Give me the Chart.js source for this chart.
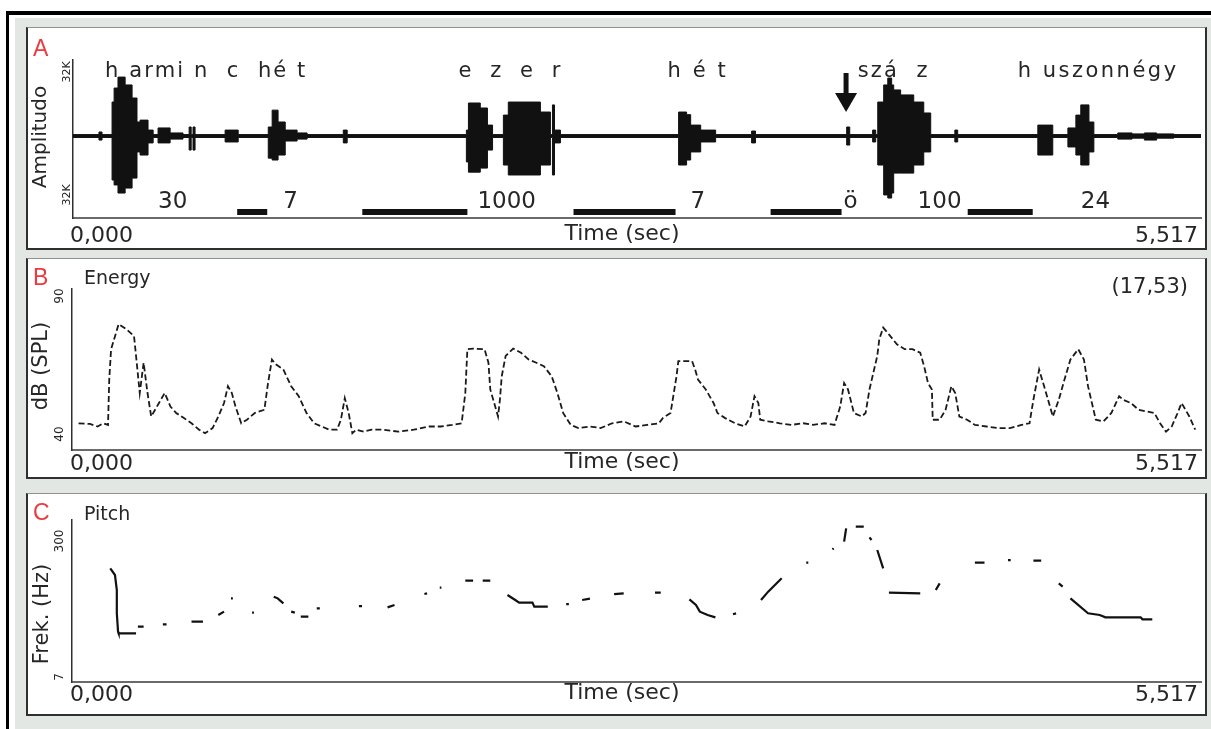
<!DOCTYPE html>
<html>
<head>
<meta charset="utf-8">
<script src="https://cdn.jsdelivr.net/npm/chart.js@4.4.1/dist/chart.umd.min.js"></script>
<style>
  html, body { margin: 0; padding: 0; background: #fff; }
  #page { position: relative; width: 1211px; height: 729px; overflow: hidden; background: #fff; }
  .bg { position: absolute; left: 15px; top: 18px; width: 1196px; height: 711px; background: #e2e7e4; }
  .frame-top { position: absolute; left: 6px; top: 11px; width: 1205px; height: 4px; background: #000; }
  .frame-left { position: absolute; left: 6px; top: 11px; width: 3px; height: 718px; background: #000; }
  .panel { position: absolute; left: 26px; width: 1177px; background: #fff;
           border: 2px solid #2f2f2f; border-top: 1px solid #8d918f; }
  .panel canvas { display: block; }
</style>
</head>
<body>
<div id="page">
  <div class="bg"></div>
  <div class="frame-top"></div>
  <div class="frame-left"></div>
  <div class="panel" style="top:27px;height:220px"><canvas id="chartA" width="1177" height="220"></canvas></div>
  <div class="panel" style="top:258px;height:218px"><canvas id="chartB" width="1177" height="218"></canvas></div>
  <div class="panel" style="top:493px;height:220px"><canvas id="chartC" width="1177" height="220"></canvas></div>
</div>
<script>
// ---- shared time axis ----
const timeMax = 5.517;
const timeTickLabels = ['0,000', '5,517'];
const timeTitle = 'Time (sec)';

// ---- A: waveform envelope (K units), value i holds from waveTime[i] to waveTime[i+1] ----
const waveTime = [0, 0.127, 0.142, 0.191, 0.201, 0.220, 0.255, 0.289, 0.313, 0.328, 0.367, 0.392,
  0.416, 0.475, 0.538, 0.568, 0.578, 0.587, 0.597, 0.744, 0.808, 0.955, 0.974, 1.003, 1.038,
  1.096, 1.145, 1.322, 1.341, 1.924, 1.934, 1.992, 2.027, 2.052, 2.105, 2.129, 2.286, 2.335,
  2.345, 2.355, 2.384, 2.962, 3.001, 3.021, 3.070, 3.143, 3.319, 3.338, 3.784, 3.799, 3.911,
  3.926, 3.936, 3.965, 3.985, 4.004, 4.014, 4.048, 4.112, 4.161, 4.195, 4.313, 4.327, 4.719,
  4.792, 4.866, 4.905, 4.929, 4.969, 4.993, 5.110, 5.180, 5.240, 5.300, 5.384, 5.517];
const waveTop = [0.6, 1.7, 0.6, 14.3, 20.2, 24.8, 21.5, 16.0, 5.9, 6.7, 2.5, 0.6,
  3.4, 1.3, 0.6, 3.8, 0.6, 3.8, 0.6, 2.5, 0.6, 3.8, 10.9, 5.9, 2.5,
  1.3, 0.6, 2.5, 0.6, 2.5, 13.9, 11.8, 4.6, 0.6, 8.8, 14.3, 10.1, 0.6,
  13.1, 2.5, 0.6, 10.1, 9.0, 4.6, 2.5, 0.6, 2.1, 0.6, 3.8, 0.6, 2.5,
  0.6, 14.3, 21.5, 24.4, 21.5, 19.4, 17.3, 14.3, 9.7, 0.6, 2.5, 0.6, 4.6,
  0.6, 3.4, 8.8, 13.1, 5.9, 0.6, 1.3, 0.9, 1.3, 0.9, 0.6, 0.6];
const waveBottom = [-0.6, -1.7, -0.6, -18.5, -20.6, -24.0, -21.9, -17.7, -6.7, -8.0, -2.9, -0.6,
  -2.9, -1.3, -0.6, -5.9, -0.6, -5.9, -0.6, -2.5, -0.6, -9.3, -10.1, -8.0, -2.1,
  -1.3, -0.6, -2.9, -0.6, -10.9, -15.2, -13.5, -5.9, -0.6, -12.2, -16.4, -12.2, -0.6,
  -16.4, -2.9, -0.6, -12.2, -10.1, -6.7, -2.5, -0.6, -2.9, -0.6, -3.8, -0.6, -2.5,
  -0.6, -12.2, -24.8, -26.1, -24.0, -15.6, -15.6, -12.2, -6.7, -0.6, -2.5, -0.6, -8.0,
  -0.6, -4.6, -8.0, -12.2, -6.7, -0.6, -1.3, -0.9, -1.7, -0.9, -0.6, -0.6];
const pauseStart = [0.803, 1.415, 2.448, 3.412, 4.376];
const pauseEnd = [0.950, 1.929, 2.947, 3.759, 4.694];
const wordLabels = ['h armi n  c  hé t', 'e z e r', 'h é t', 'szá  z', 'h uszonnégy'];
const wordStart = [0.157, 1.885, 2.908, 3.838, 4.621];
const wordEnd = [1.136, 2.384, 3.192, 4.180, 5.395];
const numberLabels = ['30', '7', '1000', '7', 'ö', '100', '24'];
const numberTimes = [0.416, 1.028, 1.978, 3.020, 3.769, 4.131, 4.929];
const arrowTime = 3.781;
const ampTickLabels = ['32K', '32K'];

// ---- B: energy (dB SPL) ----
const energyTime = [0.032, 0.088, 0.125, 0.153, 0.176, 0.182, 0.191, 0.228, 0.266, 0.303, 0.313,
  0.331, 0.350, 0.369, 0.387, 0.406, 0.425, 0.453, 0.481, 0.509, 0.547, 0.584, 0.621, 0.650,
  0.687, 0.715, 0.743, 0.762, 0.781, 0.799, 0.827, 0.855, 0.893, 0.940, 0.958, 0.977, 0.996,
  1.033, 1.071, 1.108, 1.146, 1.183, 1.220, 1.258, 1.295, 1.314, 1.333, 1.352, 1.370, 1.389,
  1.426, 1.464, 1.520, 1.595, 1.670, 1.745, 1.801, 1.857, 1.904, 1.922, 1.932, 1.960, 2.016,
  2.035, 2.044, 2.063, 2.082, 2.091, 2.100, 2.119, 2.156, 2.194, 2.231, 2.269, 2.306, 2.344,
  2.372, 2.400, 2.437, 2.475, 2.531, 2.583, 2.639, 2.696, 2.754, 2.811, 2.868, 2.887, 2.925,
  2.954, 2.963, 3.030, 3.045, 3.059, 3.097, 3.135, 3.154, 3.192, 3.240, 3.287, 3.316, 3.335,
  3.354, 3.363, 3.402, 3.459, 3.516, 3.573, 3.621, 3.678, 3.726, 3.754, 3.773, 3.792, 3.821,
  3.859, 3.878, 3.897, 3.916, 3.935, 3.945, 3.964, 3.992, 4.031, 4.069, 4.107, 4.145, 4.164,
  4.183, 4.202, 4.206, 4.240, 4.269, 4.297, 4.316, 4.336, 4.374, 4.412, 4.469, 4.526, 4.583,
  4.640, 4.679, 4.698, 4.726, 4.755, 4.793, 4.822, 4.850, 4.879, 4.917, 4.945, 4.965, 4.984,
  5.003, 5.041, 5.079, 5.117, 5.136, 5.174, 5.212, 5.250, 5.289, 5.317, 5.346, 5.374, 5.403,
  5.422, 5.441, 5.460, 5.489];
const energyDb = [48.3, 48.1, 47.3, 48.3, 47.8, 61.9, 71.3, 79.1, 77.5, 75.4, 69.2,
  57.7, 67.1, 57.7, 50.4, 52.5, 54.6, 57.7, 53.5, 51.5, 49.9, 48.3, 46.3, 45.2,
  46.8, 50.4, 54.6, 59.8, 57.7, 53.5, 48.3, 49.4, 51.5, 52.5, 60.8, 68.1, 66.6,
  65.0, 59.8, 56.7, 51.5, 48.3, 47.3, 46.3, 46.3, 49.4, 56.1, 51.5, 45.2, 46.3,
  45.7, 46.3, 46.3, 45.7, 46.3, 47.3, 47.3, 47.8, 48.3, 57.7, 71.3, 71.5, 71.3,
  67.1, 58.8, 54.6, 50.4, 55.6, 62.9, 69.2, 71.5, 70.2, 68.1, 67.1, 66.0, 62.9,
  57.7, 51.5, 47.8, 46.8, 47.3, 46.8, 48.3, 48.9, 47.3, 47.8, 48.3, 49.9, 51.5,
  62.9, 67.6, 67.6, 65.0, 61.9, 58.8, 54.6, 51.5, 49.9, 48.3, 47.3, 50.4, 56.7,
  54.6, 49.4, 48.9, 48.3, 47.8, 48.3, 47.8, 48.3, 47.8, 53.5, 60.8, 58.8, 51.5,
  50.4, 51.5, 58.8, 64.0, 69.2, 74.4, 78.0, 75.9, 72.8, 71.3, 71.3, 70.2, 66.0,
  60.8, 58.8, 49.4, 49.4, 52.5, 59.8, 57.7, 50.4, 49.4, 47.8, 47.3, 46.8, 46.8,
  47.8, 48.3, 55.6, 65.0, 58.8, 50.4, 55.6, 61.9, 68.1, 71.3, 68.1, 59.8, 54.6,
  49.4, 48.9, 51.5, 56.7, 55.6, 54.6, 52.5, 52.0, 51.5, 48.3, 45.7, 47.3, 51.5,
  54.6, 52.5, 50.4, 46.3];
const energyTickLabels = ['90', '40'];
const energyNote = '(17,53)';

// ---- C: pitch (Hz), null = unvoiced gap ----
const pitchTime = [0.187, 0.210, 0.219, 0.219, 0.225, 0.228, 0.313, 0.318,
  0.322, 0.350, 0.40, 0.444, 0.462, 0.52, 0.584, 0.640, 0.68, 0.715, 0.743, 0.76,
  0.777, 0.786, 0.83, 0.880, 0.889, 0.94, 0.986, 1.005, 1.033, 1.05, 1.071, 1.089, 1.10,
  1.118, 1.155, 1.18, 1.196, 1.211, 1.30, 1.402, 1.417, 1.48, 1.542, 1.576, 1.65,
  1.722, 1.735, 1.77, 1.797, 1.805, 1.86, 1.922, 1.960, 1.98, 2.007, 2.044, 2.09,
  2.128, 2.166, 2.185, 2.250, 2.259, 2.325, 2.37, 2.415, 2.428, 2.46, 2.493, 2.531, 2.59,
  2.649, 2.696, 2.77, 2.849, 2.877, 2.95, 3.017, 3.049, 3.068, 3.106, 3.144, 3.19,
  3.230, 3.245, 3.30, 3.367, 3.402, 3.468, 3.53, 3.588, 3.598, 3.66, 3.716, 3.722, 3.75,
  3.773, 3.783, 3.81, 3.830, 3.869, 3.88, 3.897, 3.907, 3.92, 3.935, 3.964, 3.98,
  3.992, 4.145, 4.18, 4.221, 4.240, 4.33, 4.412, 4.459, 4.52, 4.574, 4.587, 4.64,
  4.698, 4.736, 4.78, 4.822, 4.841, 4.86, 4.879, 4.965, 5.022, 5.050, 5.222, 5.231, 5.279];
const pitchHz = [212.5, 200.5, 173.4, 131.2, 98.0, 95.0, 95.0, null,
  107, 107, null, 111.3, 111.3, null, 116.1, 116.1, null, 128.2, 134.2, null,
  158.3, 158.3, null, 132.4, 132.4, null, 161.3, 158.3, 149.3, null, 134.2, 132.4, null,
  125.1, 125.1, null, 140.2, 140.2, null, 144.4, 144.4, null, 142.0, 146.2, null,
  166.1, 167.3, null, 177.6, 177.6, null, 190.2, 190.2, null, 190.2, 190.2, null,
  164.3, 155.3, 150.5, 150.5, 143.2, 143.2, null, 148.0, 148.0, null, 155.3, 157.7, null,
  166.1, 167.3, null, 168.5, 168.5, null, 156.5, 146.2, 134.2, 128.2, 123.9, null,
  129.4, 131.2, null, 155.3, 170.4, 194.5, null, 222.8, 222.8, null, 246.9, 248.7, null,
  260.8, 284.9, null, 287.9, 287.9, null, 268.6, 263.8, null, 245.7, 212.5, null,
  168.5, 167.3, null, 173.4, 185.4, null, 222.8, 222.8, null, 227.6, 227.6, null,
  226.4, 226.4, null, 185.4, 179.4, null, 158.3, 131.2, 128.2, 123.9, 123.9, 120.3, 120.3];
const pitchTickLabels = ['300', '7'];

const FONT = '"DejaVu Sans", sans-serif';
const textColor = '#262626';
Chart.defaults.font.family = FONT;

// ---- drawing helpers ----
function rotatedText(ctx, text, x, y, size) {
  ctx.save();
  ctx.translate(x, y);
  ctx.rotate(-Math.PI / 2);
  ctx.font = size + 'px ' + FONT;
  ctx.textAlign = 'center';
  ctx.textBaseline = 'middle';
  ctx.fillText(text, 0, 0);
  ctx.restore();
}

function spacedText(ctx, text, x1, x2, y) {
  const chars = [...text];
  const widths = chars.map(c => ctx.measureText(c).width);
  const total = widths.reduce((a, b) => a + b, 0);
  const gap = chars.length > 1 ? (x2 - x1 - total) / (chars.length - 1) : 0;
  let x = x1;
  chars.forEach((c, i) => {
    ctx.fillText(c, x, y);
    x += widths[i] + gap;
  });
}

// panel texts, positions given in page pixels, shifted by the canvas offset
function drawPanelText(ctx, ox, oy, s) {
  ctx.save();
  ctx.fillStyle = '#ec3a40';
  ctx.font = '23px "Liberation Sans", sans-serif';
  ctx.textAlign = 'left';
  ctx.textBaseline = 'alphabetic';
  ctx.fillText(s.letter, 33 - ox, s.letterY - oy);

  ctx.fillStyle = textColor;
  if (s.title) {
    ctx.font = '19px ' + FONT;
    ctx.fillText(s.title, 84 - ox, s.titleY - oy);
  }
  rotatedText(ctx, s.yTitle, s.yTitleX - ox, s.yTitleY - oy, s.yTitleSize);
  s.ticks.forEach((t, i) => rotatedText(ctx, t, 60 - ox + (s.tickDx || 0), s.tickY[i] - oy, s.tickSize));

  ctx.font = '22px ' + FONT;
  ctx.textAlign = 'left';
  ctx.fillText(timeTickLabels[0], 70 - ox, s.xLabelY - oy);
  ctx.textAlign = 'right';
  ctx.fillText(timeTickLabels[1], 1198 - ox, s.xLabelY - oy);
  ctx.textAlign = 'center';
  ctx.fillText(timeTitle, 622 - ox, s.xLabelY - 2 - oy);
  ctx.restore();
}

function baseOptions(yMin, yMax, padding) {
  return {
    responsive: false,
    animation: false,
    events: [],
    layout: { padding: padding, autoPadding: false },
    plugins: { legend: { display: false }, tooltip: { enabled: false } },
    scales: {
      x: {
        type: 'linear', min: 0, max: timeMax,
        grid: { display: false, drawTicks: false },
        ticks: { display: false },
        border: { display: true, color: '#6a6a6a', width: 2 }
      },
      y: {
        type: 'linear', min: yMin, max: yMax,
        grid: { display: false, drawTicks: false },
        ticks: { display: false },
        border: { display: true, color: '#303030', width: 1.5 }
      }
    }
  };
}

// ---- panel A ----
const decorA = {
  id: 'decorA',
  afterDraw(chart) {
    const ctx = chart.ctx;
    const xs = chart.scales.x;
    const ox = 28, oy = 28;
    drawPanelText(ctx, ox, oy, {
      letter: 'A', letterY: 56,
      yTitle: 'Amplitudo', yTitleX: 41, yTitleY: 137, yTitleSize: 20,
      ticks: ampTickLabels, tickY: [72, 195], tickSize: 11, tickDx: 7,
      xLabelY: 242
    });
    ctx.save();
    ctx.fillStyle = textColor;
    ctx.font = '21px ' + FONT;
    ctx.textAlign = 'left';
    wordLabels.forEach((w, i) => {
      spacedText(ctx, w, xs.getPixelForValue(wordStart[i]), xs.getPixelForValue(wordEnd[i]), 77 - oy);
    });
    ctx.font = '23px ' + FONT;
    numberLabels.forEach((n, i) => {
      ctx.fillText(n, xs.getPixelForValue(numberTimes[i]), 208 - oy);
    });
    // arrow pointing at the hesitation
    const ax = xs.getPixelForValue(arrowTime);
    ctx.fillStyle = '#111';
    ctx.fillRect(ax - 2.5, 73 - oy, 5, 22);
    ctx.beginPath();
    ctx.moveTo(ax - 11, 93 - oy);
    ctx.lineTo(ax + 11, 93 - oy);
    ctx.lineTo(ax, 112 - oy);
    ctx.closePath();
    ctx.fill();
    ctx.restore();
  }
};

const pauseData = [];
pauseStart.forEach((s, i) => {
  pauseData.push({ x: s, y: -32 }, { x: pauseEnd[i], y: -32 }, { x: pauseEnd[i], y: null });
});

new Chart(document.getElementById('chartA'), {
  type: 'line',
  data: {
    datasets: [
      {
        // upper half of the envelope, filled down to zero
        data: waveTime.map((t, i) => ({ x: t, y: waveTop[i] })),
        stepped: 'before', borderColor: '#111', backgroundColor: '#111',
        borderWidth: 1, pointRadius: 0, fill: 'origin'
      },
      {
        // lower half, filled up to zero
        data: waveTime.map((t, i) => ({ x: t, y: waveBottom[i] })),
        stepped: 'before', borderColor: '#111', backgroundColor: '#111',
        borderWidth: 1, pointRadius: 0, fill: 'origin'
      },
      {
        data: pauseData, borderColor: '#111', borderWidth: 6, borderCapStyle: 'butt',
        pointRadius: 0, spanGaps: false, fill: false
      }
    ]
  },
  options: baseOptions(-34.5, 32, { left: 45, top: 32, right: 4, bottom: 30 }),
  plugins: [decorA]
});

// ---- panel B ----
const decorB = {
  id: 'decorB',
  afterDraw(chart) {
    const ctx = chart.ctx;
    const ox = 28, oy = 259;
    drawPanelText(ctx, ox, oy, {
      letter: 'B', letterY: 285, title: 'Energy', titleY: 284,
      yTitle: 'dB (SPL)', yTitleX: 42, yTitleY: 366, yTitleSize: 21,
      ticks: energyTickLabels, tickY: [296, 434], tickSize: 12,
      xLabelY: 470
    });
    ctx.save();
    ctx.fillStyle = textColor;
    ctx.font = '21px ' + FONT;
    ctx.textAlign = 'right';
    ctx.fillText(energyNote, 1188 - ox, 293 - oy);
    ctx.restore();
  }
};

new Chart(document.getElementById('chartB'), {
  type: 'line',
  data: {
    datasets: [{
      data: energyTime.map((t, i) => ({ x: t, y: energyDb[i] })),
      borderColor: '#1a1a1a', borderWidth: 1.8, borderDash: [6, 3],
      pointRadius: 0, fill: false, tension: 0
    }]
  },
  options: baseOptions(40, 90, { left: 44, top: 30, right: 4, bottom: 27 }),
  plugins: [decorB]
});

// ---- panel C ----
const decorC = {
  id: 'decorC',
  afterDraw(chart) {
    drawPanelText(chart.ctx, 28, 494, {
      letter: 'C', letterY: 520, title: 'Pitch', titleY: 520,
      yTitle: 'Frek. (Hz)', yTitleX: 43, yTitleY: 614, yTitleSize: 21,
      ticks: pitchTickLabels, tickY: [541, 677], tickSize: 12,
      xLabelY: 701
    });
  }
};

new Chart(document.getElementById('chartC'), {
  type: 'line',
  data: {
    datasets: [{
      data: pitchTime.map((t, i) => ({ x: t, y: pitchHz[i] })),
      borderColor: '#111', borderWidth: 2.2, pointRadius: 0,
      spanGaps: false, fill: false, tension: 0
    }]
  },
  options: baseOptions(7, 300, { left: 44, top: 26, right: 4, bottom: 32 }),
  plugins: [decorC]
});
</script>
</body>
</html>
